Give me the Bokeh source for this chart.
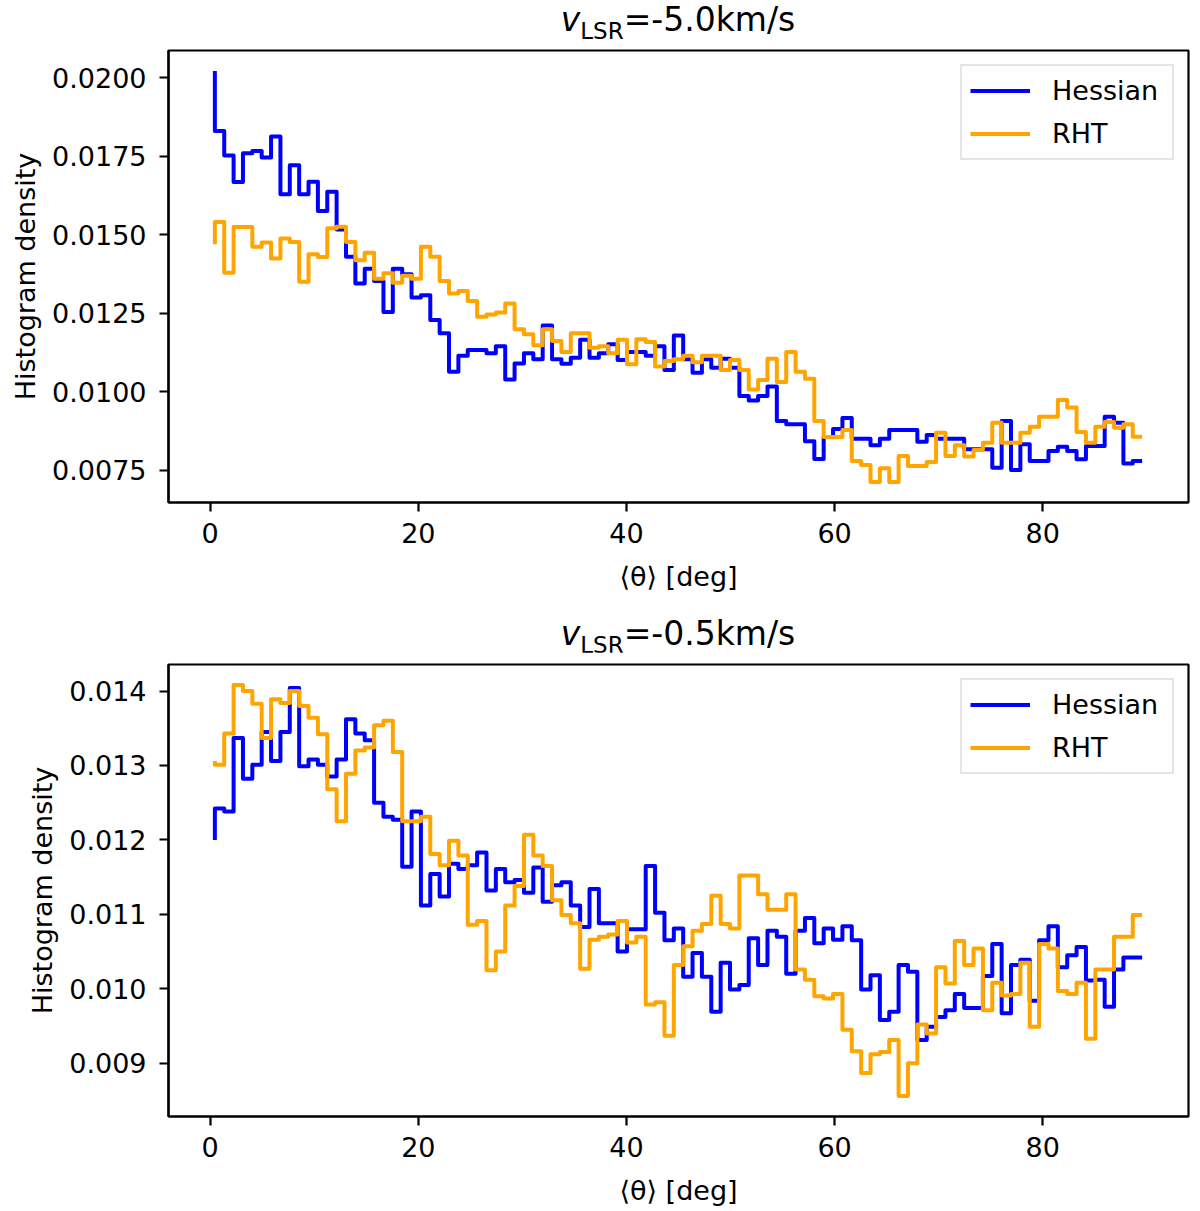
from bokeh.plotting import figure
from bokeh.models import (ColumnDataSource, Range1d, FixedTicker, PrintfTickFormatter,
                          Legend, LegendItem, Div)
from bokeh.layouts import column
from bokeh.embed import file_html
from bokeh.resources import INLINE

# bin centres of the 100 orientation bins, 0-90 deg
theta = [round(0.45 + 0.9 * i, 2) for i in range(100)]

# v_LSR = -5.0 km/s
hessian_m50 = [
    0.02022, 0.01831, 0.01753, 0.01668, 0.01760, 0.01767, 0.01746, 0.01813, 0.01629, 0.01722,
    0.01629, 0.01669, 0.01576, 0.01637, 0.01517, 0.01430, 0.01345, 0.01392, 0.01353, 0.01254,
    0.01392, 0.01374, 0.01300, 0.01307, 0.01228, 0.01186, 0.01063, 0.01114, 0.01133, 0.01133,
    0.01122, 0.01145, 0.01039, 0.01090, 0.01122, 0.01103, 0.01211, 0.01103, 0.01089, 0.01108,
    0.01165, 0.01108, 0.01122, 0.01151, 0.01101, 0.01126, 0.01126, 0.01114, 0.01145, 0.01069,
    0.01179, 0.01103, 0.01060, 0.01103, 0.01076, 0.01105, 0.01076, 0.00986, 0.00972, 0.00986,
    0.01016, 0.00906, 0.00896, 0.00896, 0.00842, 0.00785, 0.00855, 0.00881, 0.00916, 0.00850,
    0.00850, 0.00829, 0.00850, 0.00878, 0.00878, 0.00878, 0.00840, 0.00862, 0.00850, 0.00850,
    0.00850, 0.00816, 0.00816, 0.00816, 0.00757, 0.00906, 0.00750, 0.00832, 0.00779, 0.00779,
    0.00811, 0.00824, 0.00811, 0.00784, 0.00827, 0.00827, 0.00920, 0.00901, 0.00771, 0.00779,
]
rht_m50 = [
    0.01470, 0.01541, 0.01379, 0.01525, 0.01525, 0.01462, 0.01475, 0.01424, 0.01488, 0.01477,
    0.01350, 0.01438, 0.01429, 0.01521, 0.01526, 0.01477, 0.01419, 0.01443, 0.01360, 0.01377,
    0.01347, 0.01369, 0.01360, 0.01462, 0.01430, 0.01353, 0.01313, 0.01321, 0.01289, 0.01239,
    0.01246, 0.01252, 0.01281, 0.01199, 0.01183, 0.01148, 0.01199, 0.01161, 0.01126, 0.01186,
    0.01186, 0.01140, 0.01145, 0.01122, 0.01165, 0.01087, 0.01167, 0.01158, 0.01080, 0.01098,
    0.01103, 0.01114, 0.01094, 0.01114, 0.01114, 0.01069, 0.01101, 0.01069, 0.01007, 0.01037,
    0.01105, 0.01031, 0.01126, 0.01063, 0.01041, 0.00906, 0.00855, 0.00855, 0.00878, 0.00779,
    0.00766, 0.00712, 0.00756, 0.00712, 0.00795, 0.00763, 0.00763, 0.00776, 0.00869, 0.00795,
    0.00829, 0.00793, 0.00814, 0.00837, 0.00901, 0.00837, 0.00837, 0.00869, 0.00888, 0.00920,
    0.00920, 0.00973, 0.00949, 0.00871, 0.00837, 0.00888, 0.00903, 0.00885, 0.00896, 0.00856,
]

# v_LSR = -0.5 km/s
hessian_m05 = [
    0.01200, 0.01242, 0.01238, 0.01337, 0.01282, 0.01301, 0.01345, 0.01306, 0.01345, 0.01404,
    0.01299, 0.01308, 0.01301, 0.01285, 0.01308, 0.01362, 0.01343, 0.01334, 0.01250, 0.01231,
    0.01227, 0.01164, 0.01238, 0.01112, 0.01154, 0.01124, 0.01168, 0.01161, 0.01166, 0.01183,
    0.01132, 0.01161, 0.01143, 0.01146, 0.01129, 0.01163, 0.01117, 0.01139, 0.01143, 0.01112,
    0.01083, 0.01134, 0.01088, 0.01088, 0.01050, 0.01080, 0.01080, 0.01165, 0.01102, 0.01065,
    0.01081, 0.01016, 0.01048, 0.01016, 0.00969, 0.01035, 0.00999, 0.01005, 0.01068, 0.01032,
    0.01078, 0.01070, 0.01020, 0.01078, 0.01095, 0.01061, 0.01081, 0.01066, 0.01084, 0.01065,
    0.00999, 0.01018, 0.00958, 0.00969, 0.01032, 0.01023, 0.00931, 0.00949, 0.00962, 0.00971,
    0.00993, 0.00974, 0.00974, 0.01017, 0.01060, 0.00967, 0.01032, 0.01039, 0.00984, 0.01065,
    0.01084, 0.01029, 0.01045, 0.01056, 0.01011, 0.01012, 0.00976, 0.01026, 0.01042, 0.01042,
]
rht_m05 = [
    0.01306, 0.01301, 0.01343, 0.01408, 0.01400, 0.01383, 0.01337, 0.01389, 0.01384, 0.01400,
    0.01380, 0.01364, 0.01342, 0.01268, 0.01225, 0.01289, 0.01320, 0.01324, 0.01354, 0.01360,
    0.01318, 0.01225, 0.01225, 0.01231, 0.01181, 0.01166, 0.01199, 0.01179, 0.01086, 0.01091,
    0.01025, 0.01050, 0.01112, 0.01138, 0.01207, 0.01179, 0.01165, 0.01119, 0.01099, 0.01088,
    0.01027, 0.01066, 0.01070, 0.01073, 0.01091, 0.01062, 0.01070, 0.00979, 0.00982, 0.00937,
    0.01032, 0.01057, 0.01078, 0.01087, 0.01125, 0.01087, 0.01081, 0.01152, 0.01152, 0.01127,
    0.01106, 0.01106, 0.01127, 0.01026, 0.01012, 0.00990, 0.00987, 0.00993, 0.00945, 0.00916,
    0.00887, 0.00912, 0.00915, 0.00931, 0.00856, 0.00900, 0.00952, 0.00940, 0.01029, 0.01007,
    0.01064, 0.01032, 0.01054, 0.00971, 0.01008, 0.00991, 0.00993, 0.01035, 0.00949, 0.01060,
    0.01054, 0.00997, 0.00993, 0.01008, 0.00933, 0.01026, 0.01026, 0.01070, 0.01070, 0.01099,
]

x_ticks = [0, 20, 40, 60, 80]
y_ticks_m50 = [0.0075, 0.0100, 0.0125, 0.0150, 0.0175, 0.0200]
y_ticks_m05 = [0.009, 0.010, 0.011, 0.012, 0.013, 0.014]

FONT = "DejaVu Sans"


def title_div(vlsr, height):
    html = ('<div style="width:1020px;margin-left:168px;text-align:center;'
            'font-family:\'DejaVu Sans\';font-size:33px;line-height:%dpx;'
            'color:black;white-space:nowrap">'
            '<i>v</i><sub style="font-size:23px;line-height:0">LSR</sub>'
            '=%skm/s</div>') % (height - 2, vlsr)
    return Div(text=html, width=1200, height=height, margin=(0, 0, 0, 0))


def make_panel(hess, rht, yticks, fmt, border_top, border_bottom):
    lo, hi = min(hess + rht), max(hess + rht)
    ypad = 0.05 * (hi - lo)
    xpad = 0.05 * (theta[-1] - theta[0])
    p = figure(frame_width=1020, frame_height=452,
               x_range=Range1d(theta[0] - xpad, theta[-1] + xpad),
               y_range=Range1d(lo - ypad, hi + ypad),
               tools="", toolbar_location=None, output_backend="svg",
               min_border_left=168, min_border_right=12,
               min_border_top=border_top, min_border_bottom=border_bottom)

    src = ColumnDataSource(data=dict(theta=theta, hessian=hess, rht=rht))
    r_h = p.step("theta", "hessian", source=src, mode="before",
                 line_color="blue", line_width=4, line_join="round")
    r_r = p.step("theta", "rht", source=src, mode="before",
                 line_color="orange", line_width=4, line_join="round")

    p.xgrid.visible = False
    p.ygrid.visible = False
    p.outline_line_color = "black"
    p.outline_line_width = 2.2
    p.outline_line_alpha = 1.0

    p.xaxis.ticker = FixedTicker(ticks=x_ticks)
    p.xaxis.formatter = PrintfTickFormatter(format="%d")
    p.yaxis.ticker = FixedTicker(ticks=yticks)
    p.yaxis.formatter = PrintfTickFormatter(format=fmt)
    p.xaxis.axis_label = "⟨θ⟩ [deg]"
    p.yaxis.axis_label = "Histogram density"

    for ax in (p.xaxis[0], p.yaxis[0]):
        ax.axis_line_width = 2.2
        ax.major_tick_line_width = 2.2
        ax.major_tick_out = 9
        ax.major_tick_in = 0
        ax.minor_tick_out = 0
        ax.minor_tick_in = 0
        ax.major_label_text_font = FONT
        ax.major_label_text_font_size = "27px"
        ax.major_label_text_color = "black"
        ax.axis_label_text_font = FONT
        ax.axis_label_text_font_size = "27px"
        ax.axis_label_text_font_style = "normal"
        ax.axis_label_text_color = "black"

    p.xaxis.major_label_standoff = 11
    p.yaxis.major_label_standoff = 13
    p.xaxis.axis_label_standoff = 15
    p.yaxis.axis_label_standoff = 8

    legend = Legend(items=[LegendItem(label="Hessian", renderers=[r_h]),
                           LegendItem(label="RHT", renderers=[r_r])],
                    location="top_right", margin=14, padding=8, spacing=10,
                    glyph_width=60, glyph_height=33, label_height=33,
                    label_width=112, label_standoff=22,
                    label_text_font=FONT, label_text_font_size="27px",
                    label_text_color="black",
                    border_line_color="#cccccc", border_line_width=2,
                    background_fill_color="white", background_fill_alpha=0.8)
    p.add_layout(legend)
    return p


top = make_panel(hessian_m50, rht_m50, y_ticks_m50, "%.4f", 8, 116)
bottom = make_panel(hessian_m05, rht_m05, y_ticks_m05, "%.3f", 12, 92)

layout = column(title_div("-5.0", 42), top, title_div("-0.5", 34), bottom)

open("out.html", "w").write(file_html(layout, INLINE))
